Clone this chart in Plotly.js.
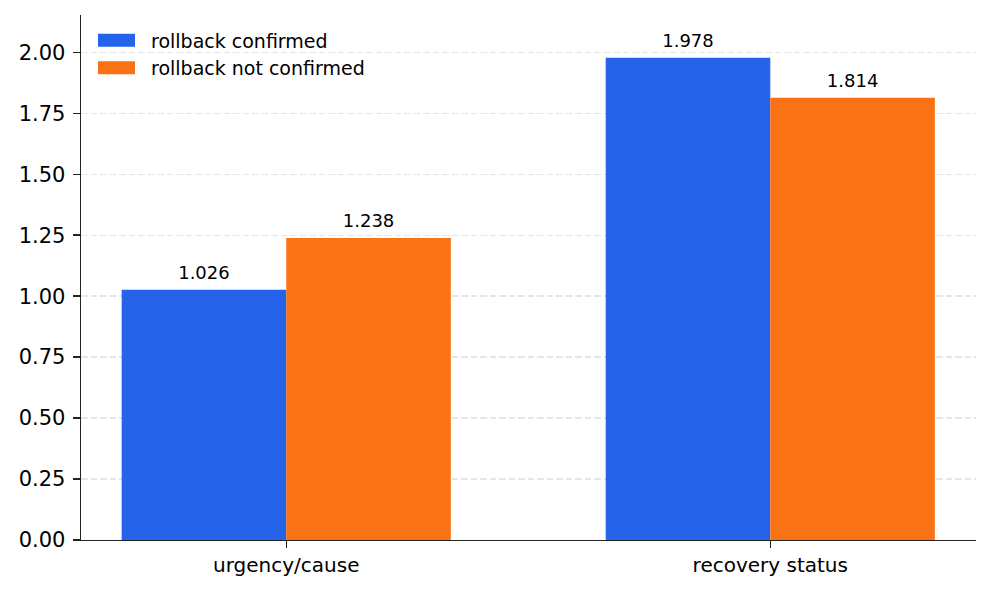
<!DOCTYPE html>
<html>
<head>
<meta charset="utf-8">
<script src="https://cdn.plot.ly/plotly-3.0.1.min.js"></script>
<style>html,body{margin:0;padding:0;background:#fff;}#chart{width:991px;height:592px;}</style>
</head>
<body>
<div id="chart"></div>
<script>
const categories = ["urgency/cause", "recovery status"];
const seriesNames = ["rollback confirmed", "rollback not confirmed"];
const confirmedValues = [1.026, 1.978];
const notConfirmedValues = [1.238, 1.814];
const seriesColors = ["#2563eb", "#f97316"];
const yTickVals = [0, 0.25, 0.5, 0.75, 1.0, 1.25, 1.5, 1.75, 2.0];

const FONT = "DejaVu Sans, sans-serif";
const seriesValues = [confirmedValues, notConfirmedValues];

const traces = seriesValues.map((vals, i) => ({
  type: "bar",
  name: seriesNames[i],
  x: categories,
  y: vals,
  marker: {color: seriesColors[i], line: {width: 0}},
  text: vals.map(v => v.toFixed(3)),
  textposition: "outside",
  textfont: {family: FONT, size: 18, color: "#000"},
  cliponaxis: false,
  hoverinfo: "skip"
}));

const layout = {
  width: 991, height: 592,
  margin: {l: 81, r: 15, t: 15, b: 52},
  paper_bgcolor: "#fff", plot_bgcolor: "#fff",
  font: {family: FONT, color: "#000"},
  barmode: "group",
  bargap: 0.32,
  bargroupgap: 0,
  showlegend: true,
  legend: {
    x: 0.0, y: 0.988, xanchor: "left", yanchor: "top",
    xref: "paper", yref: "paper",
    bgcolor: "rgba(0,0,0,0)",
    font: {family: FONT, size: 19, color: "#000"},
    itemwidth: 60,
    tracegroupgap: 0
  },
  xaxis: {
    type: "category",
    range: [-0.424, 1.425],
    showgrid: false,
    zeroline: false,
    showline: true, linecolor: "#222", linewidth: 1.4,
    ticks: "outside", ticklen: 7, tickwidth: 1.4, tickcolor: "#222",
    tickfont: {family: FONT, size: 20, color: "#000"},
    fixedrange: true
  },
  yaxis: {
    range: [0, 2.153],
    tickvals: yTickVals,
    ticktext: yTickVals.map(v => v.toFixed(2)),
    showgrid: true, gridcolor: "#e6e6e6", gridwidth: 1.3, griddash: "6.5px,3px",
    zeroline: false,
    showline: true, linecolor: "#222", linewidth: 1.4,
    ticks: "outside", ticklen: 7, tickwidth: 1.4, tickcolor: "#222",
    tickfont: {family: FONT, size: 21, color: "#000"},
    ticklabelstandoff: 3,
    fixedrange: true
  }
};

Plotly.newPlot("chart", traces, layout, {displayModeBar: false, staticPlot: true}).then(gd => {
  // widen legend swatches to match reference rectangles
  document.querySelectorAll(".legendpoints path").forEach(p => {
    p.setAttribute("d", "M-18,-6.5H19V6.5H-18Z");
  });
  // lift value labels slightly above bars, as in the reference
  document.querySelectorAll(".bartext").forEach(t => {
    const tr = t.getAttribute("transform") || "";
    t.setAttribute("transform", "translate(0,-4) " + tr);
  });
});
</script>
</body>
</html>
